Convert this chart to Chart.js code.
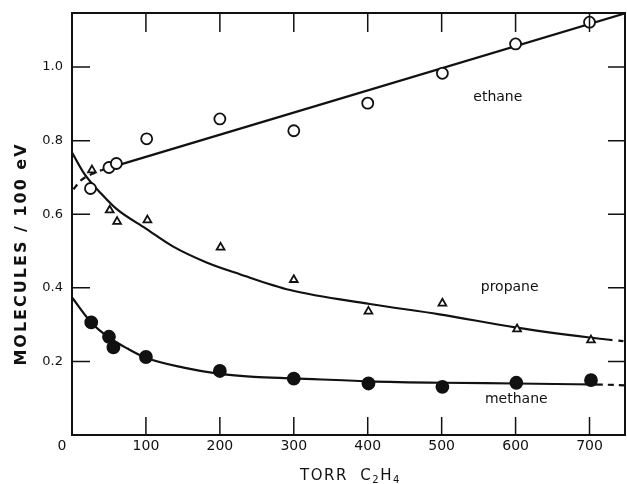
<!DOCTYPE html>
<html>
<head>
<meta charset="utf-8">
<script src="https://cdn.jsdelivr.net/npm/chart.js@4.4.1/dist/chart.umd.min.js"></script>
<style>
  html, body { margin: 0; background: #fff; }
  #wrap { width: 627px; height: 484px; }
</style>
</head>
<body>
<div id="wrap"><canvas id="c"></canvas></div>
<script>
// measured yields, molecules / 100 eV vs. ethylene pressure (torr)
const ethaneTorr = [25, 50, 60, 101, 200, 300, 400, 501, 600, 700];
const ethaneG    = [0.670, 0.727, 0.738, 0.805, 0.859, 0.827, 0.902, 0.983, 1.063, 1.122];

const propaneTorr = [27, 51, 61, 102, 201, 300, 401, 501, 602, 702];
const propaneG    = [0.720, 0.611, 0.580, 0.584, 0.510, 0.422, 0.336, 0.358, 0.288, 0.258];

const methaneTorr = [26, 50, 56, 100, 200, 300, 401, 501, 601, 702];
const methaneG    = [0.306, 0.267, 0.238, 0.212, 0.174, 0.153, 0.140, 0.131, 0.142, 0.149];

// hand-drawn fit curves (solid part + dashed extrapolation)
const ethaneFitX = [40, 748];
const ethaneFitY = [0.720, 1.146];
const ethaneExtX = [2, 12, 40];
const ethaneExtY = [0.668, 0.692, 0.720];

const propaneFitX = [0, 17, 40, 61, 100, 137, 182, 227, 295, 403, 497, 601, 700, 731];
const propaneFitY = [0.768, 0.709, 0.655, 0.613, 0.561, 0.512, 0.469, 0.437, 0.394, 0.356, 0.328, 0.292, 0.265, 0.258];
const propaneExtX = [731, 748];
const propaneExtY = [0.258, 0.255];

const methaneFitX = [0, 26, 50, 75, 100, 151, 200, 246, 300, 400, 500, 600, 718];
const methaneFitY = [0.374, 0.306, 0.265, 0.235, 0.210, 0.183, 0.166, 0.158, 0.154, 0.146, 0.142, 0.140, 0.137];
const methaneExtX = [718, 748];
const methaneExtY = [0.137, 0.135];

const xTicks = [100, 200, 300, 400, 500, 600, 700];
const yTicks = [0.2, 0.4, 0.6, 0.8, 1.0];

const curveNames = ['ethane', 'propane', 'methane'];
const curveLabelAt = [[576, 0.917], [592, 0.400], [601, 0.098]];

const INK = '#111';
const FONT = "'DejaVu Sans', sans-serif";

const pts = (xs, ys) => xs.map((x, i) => ({ x, y: ys[i] }));

function fitLine(xs, ys, dash, dashOffset) {
  return {
    data: pts(xs, ys),
    borderColor: INK,
    borderWidth: 2.2,
    borderDash: dash || [],
    borderDashOffset: dashOffset || 0,
    pointRadius: 0,
    cubicInterpolationMode: 'monotone',
    fill: false,
    order: 1
  };
}

function markers(xs, ys, style, radius, fillColor) {
  return {
    data: pts(xs, ys),
    showLine: false,
    pointStyle: style,
    pointRadius: radius,
    pointBackgroundColor: fillColor,
    pointBorderColor: INK,
    pointBorderWidth: 1.8,
    order: 0
  };
}

// frame with inward ticks, curve names and axis titles
const decorations = {
  id: 'decorations',
  afterDraw(chart) {
    const { ctx, chartArea: a, scales: { x, y } } = chart;
    ctx.save();
    ctx.strokeStyle = INK;
    ctx.lineWidth = 2;
    ctx.strokeRect(a.left, a.top, a.right - a.left, a.bottom - a.top);

    ctx.lineWidth = 1.5;
    ctx.beginPath();
    xTicks.forEach(v => {
      const px = x.getPixelForValue(v);
      ctx.moveTo(px, a.bottom); ctx.lineTo(px, a.bottom - 18);
      ctx.moveTo(px, a.top);    ctx.lineTo(px, a.top + 19);
    });
    yTicks.forEach(v => {
      const py = y.getPixelForValue(v);
      ctx.moveTo(a.left, py);  ctx.lineTo(a.left + 18, py);
      ctx.moveTo(a.right, py); ctx.lineTo(a.right - 17, py);
    });
    ctx.stroke();

    ctx.fillStyle = INK;
    ctx.textAlign = 'center';
    ctx.textBaseline = 'middle';
    ctx.font = '14px ' + FONT;
    curveNames.forEach((name, i) => {
      const [tx, ty] = curveLabelAt[i];
      ctx.fillText(name, x.getPixelForValue(tx), y.getPixelForValue(ty));
    });

    // shared origin label
    ctx.font = '14px ' + FONT;
    ctx.fillText('0', x.getPixelForValue(0) - 10, a.bottom + 11);

    // y title
    ctx.save();
    ctx.translate(22, 254);
    ctx.rotate(-Math.PI / 2);
    ctx.font = 'bold 16px ' + FONT;
    ctx.letterSpacing = '2px';
    ctx.fillText('MOLECULES / 100 eV', 0, 0);
    ctx.restore();

    // x title with subscripts
    ctx.textAlign = 'left';
    ctx.textBaseline = 'alphabetic';
    ctx.letterSpacing = '1.5px';
    let cx = 300;
    const base = 480;
    const part = (txt, size, dy) => {
      ctx.font = size + 'px ' + FONT;
      ctx.fillText(txt, cx, base + dy);
      cx += ctx.measureText(txt).width;
    };
    part('TORR  C', 15, 0);
    part('2', 10, 3);
    part('H', 15, 0);
    part('4', 10, 3);
    ctx.restore();
  }
};

new Chart(document.getElementById('c'), {
  type: 'line',
  data: {
    datasets: [
      markers(ethaneTorr, ethaneG, 'circle', 5.5, '#fff'),
      markers(propaneTorr, propaneG, 'triangle', 4.5, '#fff'),
      markers(methaneTorr, methaneG, 'circle', 6, INK),
      fitLine(ethaneFitX, ethaneFitY),
      fitLine(ethaneExtX, ethaneExtY, [6, 5]),
      fitLine(propaneFitX, propaneFitY),
      fitLine(propaneExtX, propaneExtY, [5, 6], 5),
      fitLine(methaneFitX, methaneFitY),
      fitLine(methaneExtX, methaneExtY, [6, 5], 6)
    ]
  },
  options: {
    responsive: true,
    maintainAspectRatio: false,
    animation: false,
    layout: { autoPadding: false, padding: { left: 0, right: 2, top: 13, bottom: 0 } },
    plugins: { legend: { display: false }, tooltip: { enabled: false } },
    scales: {
      x: {
        type: 'linear',
        min: 0,
        max: 748,
        grid: { display: false, drawTicks: false },
        border: { display: false },
        afterBuildTicks: s => { s.ticks = xTicks.map(v => ({ value: v })); },
        afterFit: s => { s.height = 49; s.paddingLeft = 0; s.paddingRight = 0; },
        ticks: { color: INK, font: { family: FONT, size: 14 }, padding: 3, maxRotation: 0 }
      },
      y: {
        type: 'linear',
        min: 0,
        max: 1.147,
        grid: { display: false, drawTicks: false },
        border: { display: false },
        afterBuildTicks: s => { s.ticks = yTicks.map(v => ({ value: v })); },
        afterFit: s => { s.width = 72; s.paddingTop = 0; s.paddingBottom = 0; },
        ticks: {
          color: INK,
          font: { family: FONT, size: 13 },
          padding: 9,
          callback: v => v.toFixed(1)
        }
      }
    }
  },
  plugins: [decorations]
});
</script>
</body>
</html>
